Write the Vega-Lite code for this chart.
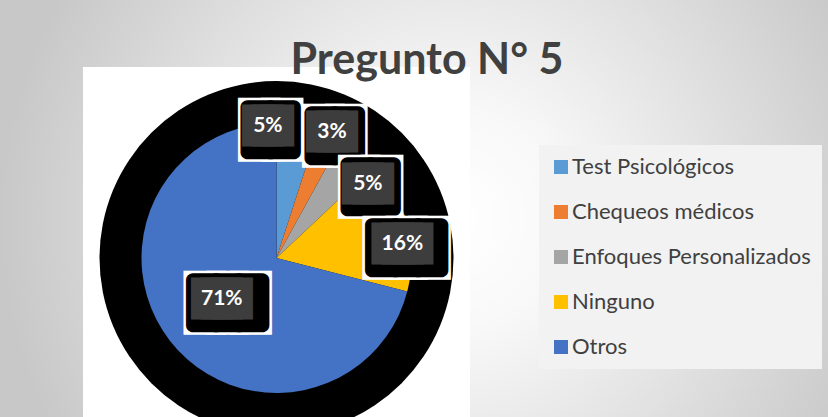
{
  "$schema": "https://vega.github.io/schema/vega-lite/v6.json",
  "autosize": {"type": "none"},
  "padding": {"left": 83, "top": 67, "right": 358, "bottom": -32},
  "width": 387,
  "height": 382,
  "background": "white",
  "view": {"stroke": null, "fill": null},
  "data": {"values": [
    {"cat": "Test Psicológicos", "value": 5, "label": "5%", "orden": 1},
    {"cat": "Chequeos médicos", "value": 3, "label": "3%", "orden": 2},
    {"cat": "Enfoques Personalizados", "value": 5, "label": "5%", "orden": 3},
    {"cat": "Ninguno", "value": 16, "label": "16%", "orden": 4},
    {"cat": "Otros", "value": 71, "label": "71%", "orden": 5}
  ]},
  "title": {"text": "Pregunto N° 5", "font": "Lato", "fontSize": 43, "fontWeight": "bold", "color": "#404040", "anchor": "middle", "frame": "group", "baseline": "alphabetic", "offset": 0, "dx": 150.5, "dy": 559},
  "layer": [
    {"transform": [{"aggregate": [{"op": "sum", "field": "value", "as": "value"}]}],
     "mark": {"type": "arc", "radius": 700, "stroke": null, "fill": {"gradient": "radial", "x1": 0.624, "y1": 0.473, "r1": 0, "x2": 0.624, "y2": 0.473, "r2": 0.32, "stops": [{"offset": 0, "color": "#ffffff"}, {"offset": 0.25, "color": "#f8f8f8"}, {"offset": 0.75, "color": "#d8d8d8"}, {"offset": 1, "color": "#c8c8c8"}]}},
     "encoding": {"theta": {"field": "value", "type": "quantitative", "stack": true}}},
    {"transform": [{"aggregate": [{"op": "sum", "field": "value", "as": "value"}]}],
     "mark": {"type": "rect", "fill": "white"},
     "encoding": {"x": {"value": 0}, "x2": {"value": "width"}, "y": {"value": 0}, "y2": {"value": "height"}}},
    {"transform": [{"aggregate": [{"op": "sum", "field": "value", "as": "value"}]}],
     "mark": {"type": "arc", "radius": 177, "fill": "black", "stroke": null},
     "encoding": {"theta": {"field": "value", "type": "quantitative", "stack": true}}},
    {"mark": {"type": "arc", "radius": 135, "stroke": null},
     "encoding": {
       "theta": {"field": "value", "type": "quantitative", "stack": true},
       "order": {"field": "orden", "type": "quantitative"},
       "color": {"field": "cat", "type": "nominal",
         "scale": {"domain": ["Test Psicológicos", "Chequeos médicos", "Enfoques Personalizados", "Ninguno", "Otros"], "range": ["#5B9BD5", "#ED7D31", "#A5A5A5", "#FFC000", "#4472C4"]},
         "legend": {"orient": "none", "legendX": 456, "legendY": 78, "title": null, "fillColor": "#f2f2f2", "padding": 11, "labelFont": "Lato", "labelFontSize": 22, "labelColor": "#404040", "symbolType": "square", "symbolSize": 196, "symbolStrokeWidth": 0, "rowPadding": 23, "labelOffset": 0, "labelLimit": 400}}
     }},

    {"mark": {"type": "text", "radius": 132, "dx": -26.3, "dy": 4.2, "font": "DejaVu Sans Mono", "fontSize": 38, "align": "center", "baseline": "middle", "fill": "white", "stroke": "white", "strokeWidth": 19, "strokeJoin": "miter"},
     "encoding": {"theta": {"field": "value", "type": "quantitative", "stack": true}, "order": {"field": "orden", "type": "quantitative"}, "text": {"condition": {"test": "datum.cat === 'Test Psicológicos'", "value": "██"}, "value": ""}}},
    {"mark": {"type": "text", "radius": 132, "dx": -26.3, "dy": 4.2, "font": "DejaVu Sans Mono", "fontSize": 38, "align": "center", "baseline": "middle", "fill": "black", "stroke": "black", "strokeWidth": 14, "strokeJoin": "round"},
     "encoding": {"theta": {"field": "value", "type": "quantitative", "stack": true}, "order": {"field": "orden", "type": "quantitative"}, "text": {"condition": {"test": "datum.cat === 'Test Psicológicos'", "value": "██"}, "value": ""}}},
    {"mark": {"type": "text", "radius": 132, "dx": -29.3, "dy": -1.3, "font": "DejaVu Sans Mono", "fontSize": 16, "align": "center", "baseline": "middle", "fill": "#3d3d3d", "stroke": "#3d3d3d", "strokeWidth": 23.1, "strokeJoin": "miter"},
     "encoding": {"theta": {"field": "value", "type": "quantitative", "stack": true}, "order": {"field": "orden", "type": "quantitative"}, "text": {"condition": {"test": "datum.cat === 'Test Psicológicos'", "value": "███"}, "value": ""}}},
    {"mark": {"type": "text", "radius": 132, "dx": -29.3, "dy": -1.3, "font": "Lato", "fontSize": 21, "fontWeight": "bold", "align": "center", "baseline": "middle", "fill": "white"},
     "encoding": {"theta": {"field": "value", "type": "quantitative", "stack": true}, "order": {"field": "orden", "type": "quantitative"}, "text": {"condition": {"test": "datum.cat === 'Test Psicológicos'", "field": "label", "type": "nominal"}, "value": ""}}},

    {"mark": {"type": "text", "radius": 137, "dx": 4, "dy": 5.5, "font": "DejaVu Sans Mono", "fontSize": 38, "align": "center", "baseline": "middle", "fill": "white", "stroke": "white", "strokeWidth": 19, "strokeJoin": "miter"},
     "encoding": {"theta": {"field": "value", "type": "quantitative", "stack": true}, "order": {"field": "orden", "type": "quantitative"}, "text": {"condition": {"test": "datum.cat === 'Chequeos médicos'", "value": "██"}, "value": ""}}},
    {"mark": {"type": "text", "radius": 137, "dx": 4, "dy": 5.5, "font": "DejaVu Sans Mono", "fontSize": 38, "align": "center", "baseline": "middle", "fill": "black", "stroke": "black", "strokeWidth": 14, "strokeJoin": "round"},
     "encoding": {"theta": {"field": "value", "type": "quantitative", "stack": true}, "order": {"field": "orden", "type": "quantitative"}, "text": {"condition": {"test": "datum.cat === 'Chequeos médicos'", "value": "██"}, "value": ""}}},
    {"mark": {"type": "text", "radius": 137, "dx": 1, "dy": 0, "font": "DejaVu Sans Mono", "fontSize": 16, "align": "center", "baseline": "middle", "fill": "#3d3d3d", "stroke": "#3d3d3d", "strokeWidth": 23.1, "strokeJoin": "miter"},
     "encoding": {"theta": {"field": "value", "type": "quantitative", "stack": true}, "order": {"field": "orden", "type": "quantitative"}, "text": {"condition": {"test": "datum.cat === 'Chequeos médicos'", "value": "███"}, "value": ""}}},
    {"mark": {"type": "text", "radius": 137, "dx": 1, "dy": 0, "font": "Lato", "fontSize": 21, "fontWeight": "bold", "align": "center", "baseline": "middle", "fill": "white"},
     "encoding": {"theta": {"field": "value", "type": "quantitative", "stack": true}, "order": {"field": "orden", "type": "quantitative"}, "text": {"condition": {"test": "datum.cat === 'Chequeos médicos'", "field": "label", "type": "nominal"}, "value": ""}}},

    {"mark": {"type": "text", "radius": 117.5, "dx": 22.3, "dy": 24.3, "font": "DejaVu Sans Mono", "fontSize": 38, "align": "center", "baseline": "middle", "fill": "white", "stroke": "white", "strokeWidth": 19, "strokeJoin": "miter"},
     "encoding": {"theta": {"field": "value", "type": "quantitative", "stack": true}, "order": {"field": "orden", "type": "quantitative"}, "text": {"condition": {"test": "datum.cat === 'Enfoques Personalizados'", "value": "██"}, "value": ""}}},
    {"mark": {"type": "text", "radius": 117.5, "dx": 22.3, "dy": 24.3, "font": "DejaVu Sans Mono", "fontSize": 38, "align": "center", "baseline": "middle", "fill": "black", "stroke": "black", "strokeWidth": 14, "strokeJoin": "round"},
     "encoding": {"theta": {"field": "value", "type": "quantitative", "stack": true}, "order": {"field": "orden", "type": "quantitative"}, "text": {"condition": {"test": "datum.cat === 'Enfoques Personalizados'", "value": "██"}, "value": ""}}},
    {"mark": {"type": "text", "radius": 117.5, "dx": 19.3, "dy": 18.8, "font": "DejaVu Sans Mono", "fontSize": 16, "align": "center", "baseline": "middle", "fill": "#3d3d3d", "stroke": "#3d3d3d", "strokeWidth": 23.1, "strokeJoin": "miter"},
     "encoding": {"theta": {"field": "value", "type": "quantitative", "stack": true}, "order": {"field": "orden", "type": "quantitative"}, "text": {"condition": {"test": "datum.cat === 'Enfoques Personalizados'", "value": "███"}, "value": ""}}},
    {"mark": {"type": "text", "radius": 117.5, "dx": 19.3, "dy": 18.8, "font": "Lato", "fontSize": 21, "fontWeight": "bold", "align": "center", "baseline": "middle", "fill": "white"},
     "encoding": {"theta": {"field": "value", "type": "quantitative", "stack": true}, "order": {"field": "orden", "type": "quantitative"}, "text": {"condition": {"test": "datum.cat === 'Enfoques Personalizados'", "field": "label", "type": "nominal"}, "value": ""}}},

    {"mark": {"type": "text", "radius": 127, "dx": 7.3, "dy": 23.1, "font": "DejaVu Sans Mono", "fontSize": 38, "align": "center", "baseline": "middle", "fill": "white", "stroke": "white", "strokeWidth": 19, "strokeJoin": "miter"},
     "encoding": {"theta": {"field": "value", "type": "quantitative", "stack": true}, "order": {"field": "orden", "type": "quantitative"}, "text": {"condition": {"test": "datum.cat === 'Ninguno'", "value": "███"}, "value": ""}}},
    {"mark": {"type": "text", "radius": 127, "dx": 7.3, "dy": 23.1, "font": "DejaVu Sans Mono", "fontSize": 38, "align": "center", "baseline": "middle", "fill": "black", "stroke": "black", "strokeWidth": 14, "strokeJoin": "round"},
     "encoding": {"theta": {"field": "value", "type": "quantitative", "stack": true}, "order": {"field": "orden", "type": "quantitative"}, "text": {"condition": {"test": "datum.cat === 'Ninguno'", "value": "███"}, "value": ""}}},
    {"mark": {"type": "text", "radius": 127, "dx": 2.8, "dy": 17.6, "font": "DejaVu Sans Mono", "fontSize": 16, "align": "center", "baseline": "middle", "fill": "#3d3d3d", "stroke": "#3d3d3d", "strokeWidth": 23.1, "strokeJoin": "miter"},
     "encoding": {"theta": {"field": "value", "type": "quantitative", "stack": true}, "order": {"field": "orden", "type": "quantitative"}, "text": {"condition": {"test": "datum.cat === 'Ninguno'", "value": "████"}, "value": ""}}},
    {"mark": {"type": "text", "radius": 127, "dx": 2.8, "dy": 17.6, "font": "Lato", "fontSize": 21, "fontWeight": "bold", "align": "center", "baseline": "middle", "fill": "white"},
     "encoding": {"theta": {"field": "value", "type": "quantitative", "stack": true}, "order": {"field": "orden", "type": "quantitative"}, "text": {"condition": {"test": "datum.cat === 'Ninguno'", "field": "label", "type": "nominal"}, "value": ""}}},

    {"mark": {"type": "text", "radius": 68.5, "dx": 5.4, "dy": 4.8, "font": "DejaVu Sans Mono", "fontSize": 38, "align": "center", "baseline": "middle", "fill": "white", "stroke": "white", "strokeWidth": 19, "strokeJoin": "miter"},
     "encoding": {"theta": {"field": "value", "type": "quantitative", "stack": true}, "order": {"field": "orden", "type": "quantitative"}, "text": {"condition": {"test": "datum.cat === 'Otros'", "value": "███"}, "value": ""}}},
    {"mark": {"type": "text", "radius": 68.5, "dx": 5.4, "dy": 4.8, "font": "DejaVu Sans Mono", "fontSize": 38, "align": "center", "baseline": "middle", "fill": "black", "stroke": "black", "strokeWidth": 14, "strokeJoin": "round"},
     "encoding": {"theta": {"field": "value", "type": "quantitative", "stack": true}, "order": {"field": "orden", "type": "quantitative"}, "text": {"condition": {"test": "datum.cat === 'Otros'", "value": "███"}, "value": ""}}},
    {"mark": {"type": "text", "radius": 68.5, "dx": -0.6, "dy": -0.7, "font": "DejaVu Sans Mono", "fontSize": 16, "align": "center", "baseline": "middle", "fill": "#3d3d3d", "stroke": "#3d3d3d", "strokeWidth": 23.1, "strokeJoin": "miter"},
     "encoding": {"theta": {"field": "value", "type": "quantitative", "stack": true}, "order": {"field": "orden", "type": "quantitative"}, "text": {"condition": {"test": "datum.cat === 'Otros'", "value": "████"}, "value": ""}}},
    {"mark": {"type": "text", "radius": 68.5, "dx": -0.6, "dy": -0.7, "font": "Lato", "fontSize": 21, "fontWeight": "bold", "align": "center", "baseline": "middle", "fill": "white"},
     "encoding": {"theta": {"field": "value", "type": "quantitative", "stack": true}, "order": {"field": "orden", "type": "quantitative"}, "text": {"condition": {"test": "datum.cat === 'Otros'", "field": "label", "type": "nominal"}, "value": ""}}}
  ]
}
